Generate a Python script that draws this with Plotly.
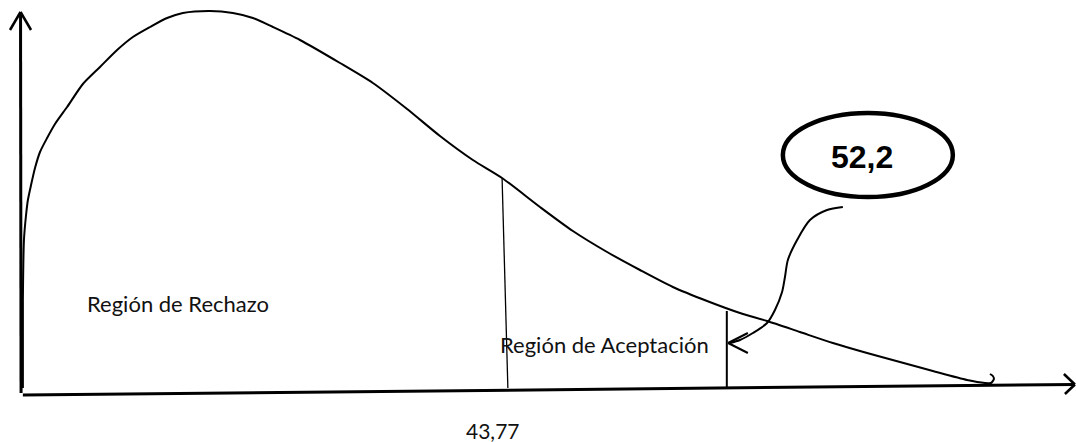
import plotly.graph_objects as go

# Critical values of the test statistic and how they are written
crit_values = [43.77, 52.2]
crit_labels = ["43,77", "52,2"]

# Hand-sketched density curve: statistic value vs. drawing height (top = 0)
curve_x = [25.45, 25.45, 25.49, 25.57, 25.64, 25.76, 25.91, 26.10, 26.37, 26.67,
           27.13, 27.73, 28.38, 29.03, 29.63, 30.28, 30.93, 31.53, 32.56, 33.43,
           34.19, 34.95, 35.98, 37.50, 38.75, 40.05, 41.30, 42.55, 43.66,
           45.10, 46.35, 47.65, 48.90, 50.15, 51.45, 52.70, 53.73, 54.98, 56.23,
           57.53, 58.78, 60.03, 61.33, 62.01, 62.24, 62.35, 62.31, 62.20]
curve_y = [388, 300, 240, 215, 200, 185, 168, 152, 138, 124,
           107, 84, 67, 50, 37, 27, 18, 13, 11, 13,
           18, 27, 40, 63, 83, 109, 136, 160, 178,
           207, 231, 252, 270, 287, 301, 313, 321, 332, 343,
           353, 362, 371, 380, 383, 383, 379, 376, 374]

# Curved pointer from the callout down to the second critical value
pointer_x = [56.61, 56.01, 55.36, 54.87, 54.52, 54.41, 54.30, 54.03, 53.73, 53.19, 52.70, 52.32]
pointer_y = [207, 210, 220, 240, 260, 277, 292, 310, 323, 333, 340, 343]

region_labels = ["Región de Rechazo", "Región de Aceptación"]

X_RANGE = [24.58, 65.47]
Y_RANGE = [442, 0]
INK = "black"
TEXT_FONT = "Lato"

fig = go.Figure()

# density curve
fig.add_trace(go.Scatter(x=curve_x, y=curve_y, mode="lines",
                         line=dict(color=INK, width=2, shape="spline", smoothing=0.7),
                         hoverinfo="skip"))

# curved pointer
fig.add_trace(go.Scatter(x=pointer_x, y=pointer_y, mode="lines",
                         line=dict(color=INK, width=2, shape="spline", smoothing=0.8),
                         hoverinfo="skip"))

shapes = []

def seg(x0, y0, x1, y1, w):
    shapes.append(dict(type="line", xref="x", yref="y", x0=x0, y0=y0, x1=x1, y1=y1,
                       line=dict(color=INK, width=w)))

# vertical axis with arrowhead
seg(25.38, 393, 25.36, 12, 3)
seg(24.96, 30, 25.36, 12, 2.5)
seg(25.76, 30, 25.36, 12, 2.5)
# horizontal axis with arrowhead
seg(25.45, 395, 65.43, 384.5, 3)
seg(65.01, 374, 65.43, 384.5, 2.5)
seg(65.05, 394, 65.43, 384.5, 2.5)

# critical value lines
seg(crit_values[0] - 0.11, 178, crit_values[0] + 0.11, 388, 1.3)
seg(crit_values[1], 311, crit_values[1], 387, 2)

# pointer arrowhead at the second critical value
seg(53.00, 333, crit_values[1] + 0.05, 343, 2)
seg(53.00, 353, crit_values[1] + 0.05, 343, 2)

# callout ellipse
shapes.append(dict(type="circle", xref="x", yref="y", x0=54.33, x1=60.79, y0=113, y1=197,
                   line=dict(color=INK, width=4.5)))

fig.update_layout(shapes=shapes)

fig.add_annotation(x=31.34, y=303, text=region_labels[0], showarrow=False,
                   font=dict(family=TEXT_FONT, size=22, color="#111"))
fig.add_annotation(x=47.57, y=344, text=region_labels[1], showarrow=False,
                   font=dict(family=TEXT_FONT, size=22, color="#111"))
fig.add_annotation(x=crit_values[0] - 0.46, y=430, text=crit_labels[0], showarrow=False,
                   font=dict(family=TEXT_FONT, size=21, color="#111"))
fig.add_annotation(x=57.35, y=157, text="<b>" + crit_labels[1] + "</b>", showarrow=False,
                   font=dict(family="Liberation Sans", size=32, color=INK))

fig.update_layout(
    width=1076, height=442,
    margin=dict(l=0, r=0, t=0, b=0),
    paper_bgcolor="white", plot_bgcolor="white",
    showlegend=False,
    xaxis=dict(range=X_RANGE, visible=False, fixedrange=True),
    yaxis=dict(range=Y_RANGE, visible=False, fixedrange=True),
)

fig.write_html("out.html")
